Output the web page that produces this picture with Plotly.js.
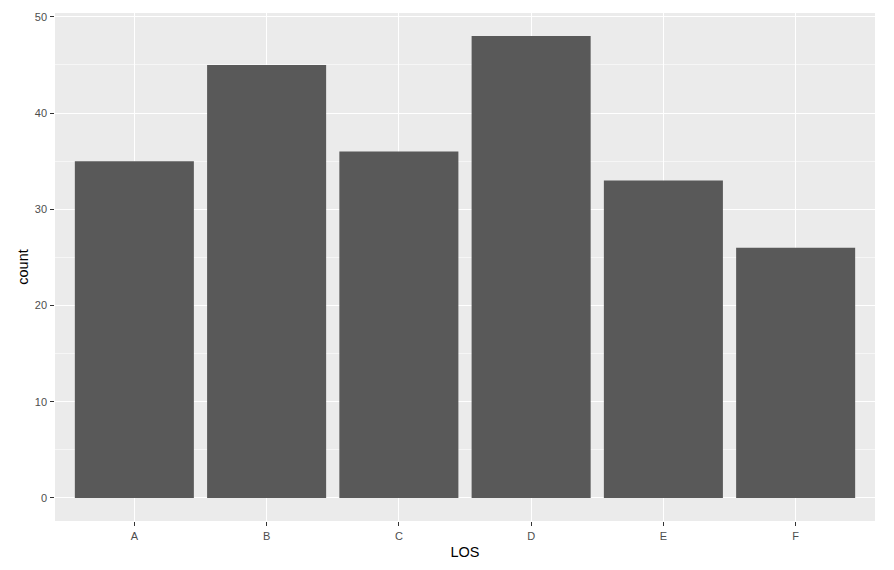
<!DOCTYPE html>
<html>
<head>
<meta charset="utf-8">
<script src="https://cdn.plot.ly/plotly-3.0.1.min.js"></script>
<style>html,body{margin:0;padding:0;background:#fff;}#chart{width:894px;height:570px;}</style>
</head>
<body>
<div id="chart"></div>
<script>
const categories = ["A", "B", "C", "D", "E", "F"];
const counts = [35, 45, 36, 48, 33, 26];
const yTicks = [0, 10, 20, 30, 40, 50];

const trace = {
  type: "bar",
  x: categories,
  y: counts,
  width: 0.9,
  marker: {color: "#595959", line: {width: 0}},
  hoverinfo: "x+y"
};

const layout = {
  width: 894,
  height: 570,
  margin: {l: 54.5, r: 19, t: 13, b: 49, pad: 0},
  paper_bgcolor: "#ffffff",
  plot_bgcolor: "#EBEBEB",
  font: {family: "Liberation Sans, Arial, sans-serif", color: "#4D4D4D", size: 11},
  showlegend: false,
  bargap: 0.1,
  xaxis: {
    type: "category",
    range: [-0.6, 5.6],
    showgrid: true,
    gridcolor: "#ffffff",
    gridwidth: 1.1,
    zeroline: false,
    showline: false,
    ticks: "outside",
    ticklen: 3.7,
    tickwidth: 1.1,
    tickcolor: "#333333",
    tickfont: {size: 11, color: "#4D4D4D"},
    ticklabelstandoff: 1,
    title: {text: "LOS", font: {size: 14.5, color: "#000000"}, standoff: 5},
    automargin: false,
    fixedrange: true
  },
  yaxis: {
    range: [-2.4, 50.4],
    tickvals: yTicks,
    ticktext: yTicks.map(String),
    showgrid: true,
    gridcolor: "#ffffff",
    gridwidth: 1.1,
    minor: {tickvals: [5, 15, 25, 35, 45], showgrid: true, gridcolor: "#ffffff", gridwidth: 0.55, ticks: ""},
    zeroline: false,
    showline: false,
    ticks: "outside",
    ticklen: 3.7,
    tickwidth: 1.1,
    tickcolor: "#333333",
    tickfont: {size: 11, color: "#4D4D4D"},
    ticklabelstandoff: 1,
    title: {text: "count", font: {size: 14.5, color: "#000000"}, standoff: 2},
    automargin: false,
    fixedrange: true
  }
};

Plotly.newPlot("chart", [trace], layout, {displayModeBar: false, staticPlot: true});
</script>
</body>
</html>
